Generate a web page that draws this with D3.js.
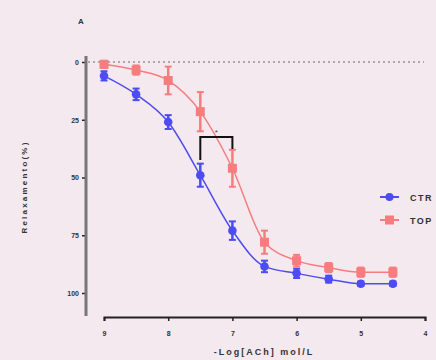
<!DOCTYPE html>
<html>
<head>
<meta charset="utf-8">
<script src="https://cdn.jsdelivr.net/npm/d3@7"></script>
<style>
  body { margin: 0; background: #f4e9ee; }
  svg { display: block; font-family: "Liberation Sans", Arial, sans-serif; }
</style>
</head>
<body>
<div class="chart"></div>
<script>
// -log[ACh] concentrations (axis runs 9 -> 4)
var doses = [9, 8.5, 8, 7.5, 7, 6.5, 6, 5.5, 5, 4.5];
var ctr = [6, 14, 26, 49, 73, 88.5, 91.5, 94, 96, 96];
var ctrErr = [2, 2.5, 3, 5, 4, 2.5, 2, 1.5, 1, 1];
var top_ = [1, 3.5, 8, 21.5, 46, 78, 86, 89, 91, 91];
var topErr = [1.5, 2, 6, 8.5, 8, 5, 2.5, 2, 2, 2];
var xTicks = [9, 8, 7, 6, 5, 4];
var yTicks = [0, 25, 50, 75, 100];

var width = 436, height = 360;
var svg = d3.select(".chart").append("svg")
  .attr("width", width).attr("height", height);

var x = d3.scaleLinear().domain([9, 4]).range([104, 425]);
var y = d3.scaleLinear().domain([0, 100]).range([62, 293]);

// reference line at 0
svg.append("line")
  .attr("x1", 88).attr("x2", 424)
  .attr("y1", y(0)).attr("y2", y(0))
  .attr("stroke", "#666").attr("stroke-width", 1.2)
  .attr("stroke-dasharray", "2,3");

// y axis
var yAxis = d3.axisLeft(y).tickValues(yTicks).tickSize(4).tickPadding(3);
var gy = svg.append("g").attr("transform", "translate(86,0)").call(yAxis);
gy.select(".domain").remove();
gy.append("line").attr("x1", 0).attr("x2", 0).attr("y1", 56).attr("y2", 316)
  .attr("stroke", "#777").attr("stroke-width", 3);
gy.selectAll(".tick line").attr("stroke", "#222").attr("stroke-width", 1.5);
gy.selectAll(".tick text").attr("font-size", 7).attr("font-weight", "bold").attr("fill", "#333");

// x axis
var xAxis = d3.axisBottom(x).tickValues(xTicks).tickFormat(d3.format("d"))
  .tickSize(4).tickPadding(10);
var gx = svg.append("g").attr("transform", "translate(0,317)").call(xAxis);
gx.select(".domain").attr("stroke", "#222").attr("stroke-width", 2);
gx.selectAll(".tick line").attr("stroke", "#222").attr("stroke-width", 1.5);
gx.selectAll(".tick text").attr("font-size", 7).attr("font-weight", "bold").attr("fill", "#333");

function series(vals, errs, color, shape) {
  var g = svg.append("g");
  var line = d3.line()
    .x(function(d, i) { return x(doses[i]); })
    .y(function(d) { return y(d); })
    .curve(d3.curveMonotoneX);
  g.append("path").datum(vals).attr("d", line)
    .attr("fill", "none").attr("stroke", color).attr("stroke-width", 1.5);
  g.selectAll(".err").data(vals).enter().append("line")
    .attr("x1", function(d, i) { return x(doses[i]); })
    .attr("x2", function(d, i) { return x(doses[i]); })
    .attr("y1", function(d, i) { return y(d - errs[i]); })
    .attr("y2", function(d, i) { return y(d + errs[i]); })
    .attr("stroke", color).attr("stroke-width", 2.5);
  g.selectAll(".cap").data(vals.concat(vals)).enter().append("line")
    .attr("x1", function(d, i) { return x(doses[i % vals.length]) - 3.5; })
    .attr("x2", function(d, i) { return x(doses[i % vals.length]) + 3.5; })
    .attr("y1", function(d, i) { var k = i % vals.length; return y(i < vals.length ? d - errs[k] : d + errs[k]); })
    .attr("y2", function(d, i) { var k = i % vals.length; return y(i < vals.length ? d - errs[k] : d + errs[k]); })
    .attr("stroke", color).attr("stroke-width", 2);
  if (shape === "circle") {
    g.selectAll(".pt").data(vals).enter().append("circle")
      .attr("cx", function(d, i) { return x(doses[i]); })
      .attr("cy", function(d) { return y(d); })
      .attr("r", 4.3).attr("fill", color);
  } else {
    g.selectAll(".pt").data(vals).enter().append("rect")
      .attr("x", function(d, i) { return x(doses[i]) - 4.5; })
      .attr("y", function(d) { return y(d) - 4.5; })
      .attr("width", 9).attr("height", 9).attr("fill", color);
  }
}

series(top_, topErr, "#f77c7e", "square");
series(ctr, ctrErr, "#4c4cf2", "circle");

// significance bracket
var by = 137;
svg.append("path")
  .attr("d", "M" + x(7.5) + "," + 160 + "V" + by + "H" + x(7) + "V" + 149)
  .attr("fill", "none").attr("stroke", "#111").attr("stroke-width", 2);
svg.append("text").attr("x", (x(7.5) + x(7)) / 2).attr("y", by - 2)
  .attr("text-anchor", "middle").attr("font-size", 8).attr("fill", "#445")
  .text("*");

// legend
var legend = [["CTR", "#4c4cf2", "circle"], ["TOP", "#f77c7e", "square"]];
legend.forEach(function(l, i) {
  var ly = 197 + i * 23;
  svg.append("line").attr("x1", 380).attr("x2", 399).attr("y1", ly).attr("y2", ly)
    .attr("stroke", l[1]).attr("stroke-width", 2);
  if (l[2] === "circle") {
    svg.append("circle").attr("cx", 389.5).attr("cy", ly).attr("r", 4).attr("fill", l[1]);
  } else {
    svg.append("rect").attr("x", 385).attr("y", ly - 4.5).attr("width", 9).attr("height", 9).attr("fill", l[1]);
  }
  svg.append("text").attr("x", 410).attr("y", ly + 3.5)
    .attr("font-size", 9).attr("font-weight", "bold").attr("fill", "#333")
    .attr("letter-spacing", 1.5).text(l[0]);
});

// labels
svg.append("text").attr("x", 78).attr("y", 24).attr("font-size", 8)
  .attr("font-weight", "bold").attr("fill", "#333").text("A");
svg.append("text")
  .attr("transform", "translate(27,187) rotate(-90)")
  .attr("text-anchor", "middle").attr("font-size", 8).attr("font-weight", "bold")
  .attr("fill", "#333").attr("letter-spacing", 2.2).text("Relaxamento(%)");
svg.append("text").attr("x", 264).attr("y", 355)
  .attr("text-anchor", "middle").attr("font-size", 9).attr("font-weight", "bold")
  .attr("fill", "#333").attr("letter-spacing", 2).text("-Log[ACh] mol/L");
</script>
</body>
</html>
